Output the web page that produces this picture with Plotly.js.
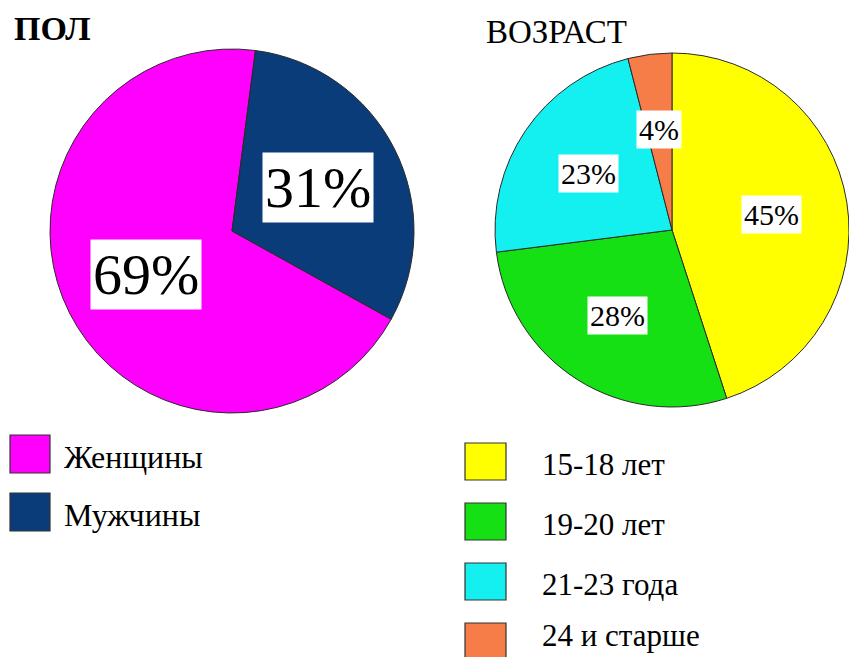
<!DOCTYPE html>
<html><head><meta charset="utf-8">
<script src="https://cdn.plot.ly/plotly-3.0.1.min.js"></script>
<style>html,body{margin:0;padding:0;background:#fff}</style>
</head><body><div id="chart" style="width:849px;height:657px"></div>
<script>
// ---- data ----
const genderTitle = 'ПОЛ';
const genderLabels = ['Женщины', 'Мужчины'];
const genderValues = [69, 31];
const ageTitle = 'ВОЗРАСТ';
const ageLabels = ['15-18 лет', '19-20 лет', '21-23 года', '24 и старше'];
const ageValues = [45, 28, 23, 4];

// ---- styles ----
const genderColors = ['#ff00ff', '#0b3c7a'];
const ageColors = ['#ffff00', '#14e014', '#14f0f0', '#f77d48'];
const W = 849, H = 657;
const SERIF = 'Liberation Serif';
const px2x = p => p / W;
const px2y = p => 1 - p / H;

const genderDomain = {x: [px2x(50), px2x(414)], y: [px2y(413), px2y(49)]};
const ageDomain = {x: [px2x(495), 1], y: [px2y(407), px2y(53)]};
const genderRotation = 119;
const ageRotation = 0;

const traces = [
  {type: 'pie', labels: genderLabels, values: genderValues, sort: false,
   direction: 'clockwise', rotation: genderRotation, domain: genderDomain,
   marker: {colors: genderColors, line: {color: '#2a2a2a', width: 1}},
   textinfo: 'none', hoverinfo: 'label+percent', showlegend: false},
  {type: 'pie', labels: ageLabels, values: ageValues, sort: false,
   direction: 'clockwise', rotation: ageRotation, domain: ageDomain,
   marker: {colors: ageColors, line: {color: '#2a2a2a', width: 1}},
   textinfo: 'none', hoverinfo: 'label+percent', showlegend: false}
];

function sliceLabels(values, domain, rotation, rfrac, size) {
  const total = values.reduce((a, b) => a + b, 0);
  const cx = (domain.x[0] + domain.x[1]) / 2 * W;
  const cy = (1 - (domain.y[0] + domain.y[1]) / 2) * H;
  const R = Math.min((domain.x[1] - domain.x[0]) * W, (domain.y[1] - domain.y[0]) * H) / 2;
  let cum = 0;
  return values.map(v => {
    const mid = (rotation + (cum + v / 2) / total * 360) * Math.PI / 180;
    cum += v;
    const x = cx + rfrac * R * Math.sin(mid);
    const y = cy - rfrac * R * Math.cos(mid);
    return {xref: 'paper', yref: 'paper', x: px2x(x), y: px2y(y),
      xanchor: 'center', yanchor: 'middle', showarrow: false,
      text: v + '%', bgcolor: '#ffffff', borderpad: 2,
      font: {family: SERIF, size: size, color: '#000'}};
  });
}

function legendItems(labels, colors, sqX, sqY0, sqW, sqH, step, textX, size) {
  const shapes = [], anns = [];
  labels.forEach((lab, i) => {
    const y0 = sqY0 + i * step;
    shapes.push({type: 'rect', xref: 'paper', yref: 'paper',
      x0: px2x(sqX), x1: px2x(sqX + sqW), y0: px2y(y0), y1: px2y(y0 + sqH),
      fillcolor: colors[i], line: {color: '#333', width: 1.2}});
    const cy = Math.min(y0 + sqH / 2 + 3, H - size * 0.68);
    anns.push({xref: 'paper', yref: 'paper', x: px2x(textX), y: px2y(cy),
      xanchor: 'left', yanchor: 'middle', showarrow: false, text: lab,
      font: {family: SERIF, size: size, color: '#000'}});
  });
  return {shapes, anns};
}

const gLeg = legendItems(genderLabels, genderColors, 10, 435, 40, 38, 58, 62, 32);
const aLeg = legendItems(ageLabels, ageColors, 465, 443, 41, 37, 60, 540, 31);

const annotations = [
  {xref: 'paper', yref: 'paper', x: px2x(12), y: px2y(28), xanchor: 'left', yanchor: 'middle',
   showarrow: false, text: '<b>' + genderTitle + '</b>', font: {family: SERIF, size: 34, color: '#000'}},
  {xref: 'paper', yref: 'paper', x: px2x(484), y: px2y(32), xanchor: 'left', yanchor: 'middle',
   showarrow: false, text: ageTitle, font: {family: SERIF, size: 33, color: '#000'}},
  ...sliceLabels(genderValues, genderDomain, genderRotation, 0.53, 58),
  ...sliceLabels(ageValues, ageDomain, ageRotation, 0.57, 30),
  ...gLeg.anns, ...aLeg.anns
];

const layout = {
  width: W, height: H,
  margin: {l: 0, r: 0, t: 0, b: 0},
  font: {family: SERIF, color: '#000'},
  paper_bgcolor: '#fff', plot_bgcolor: '#fff',
  showlegend: false,
  annotations: annotations,
  shapes: [...gLeg.shapes, ...aLeg.shapes]
};
Plotly.newPlot('chart', traces, layout, {displayModeBar: false, staticPlot: true}).then(gd => {
  gd.querySelectorAll('.annotation-text').forEach(e => { e.style.fontFamily = SERIF; });
  const upd = {};
  upd['annotations[' + annotations.length + ']'] = {xref: 'paper', yref: 'paper', x: 0.01, y: 0.02,
    xanchor: 'left', showarrow: false, text: '.', font: {family: 'DejaVu Sans', size: 10, color: '#ffffff'}};
  return Plotly.relayout(gd, upd);
}).then(gd => {
  gd.querySelectorAll('.annotation-text').forEach(e => { if (!/DejaVu Sans/.test(e.getAttribute('style') || '')) e.style.fontFamily = SERIF; });
});
</script></body></html>
